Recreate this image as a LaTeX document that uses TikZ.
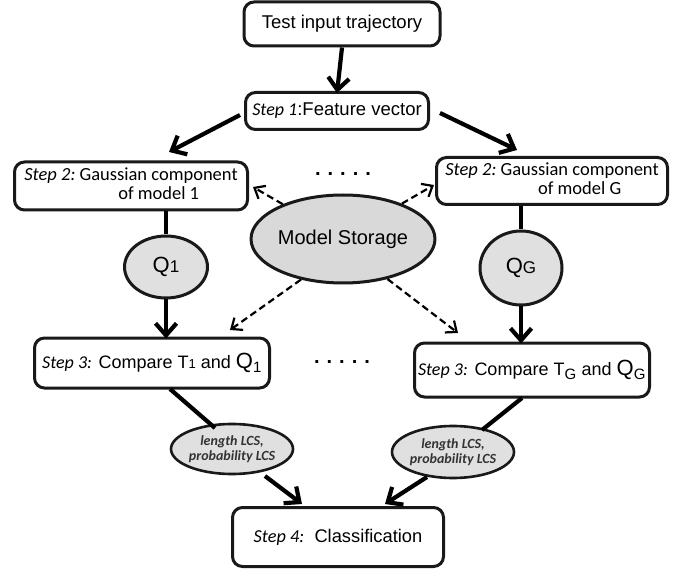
\documentclass[tikz,border=0pt]{standalone}
\usepackage{fontspec}
\setmainfont{Liberation Sans}
\newfontfamily\calfont{Carlito}
\usetikzlibrary{arrows.meta,shapes.geometric}
\tikzset{
  box/.style={draw=black!90, line width=3pt, rounded corners=10pt, fill=white, inner sep=4pt, align=center},
  gfill/.style={draw=black!90, line width=3pt, fill=black!15, ellipse, inner sep=0pt},
  bigarrow/.style={line width=4.2pt, -{Straight Barb[length=12pt,width=21pt,line width=4.2pt]}},
  plainline/.style={line width=4.2pt},
  dasharrow/.style={line width=2.2pt, dash pattern=on 7pt off 4pt, -{Straight Barb[length=9pt,width=15pt,line width=2.2pt]}},
}
\newcommand{\stepl}[1]{{\calfont\itshape #1}}
\begin{document}
\begin{tikzpicture}[x=1pt,y=-1pt]
\useasboundingbox (0,0) rectangle (688,569);
\fill[white] (0,0) rectangle (688,569);
% nodes
\node[box, minimum width=196pt, minimum height=44pt, font=\fontsize{18.5}{21}\selectfont] (top) at (342,24) {Test input trajectory};
\node[box, minimum width=183pt, minimum height=37pt, inner sep=2pt, font=\fontsize{18.5}{21}\selectfont] (s1) at (337,111) {{\calfont\itshape\fontsize{18}{20}\selectfont Step 1}:Feature vector};
\node[box, minimum width=233pt, minimum height=48pt, font=\calfont\fontsize{18.5}{19}\selectfont, inner sep=1pt] (s2l) at (131,186)
  {\begin{tabular}{@{}l@{\ }c@{}}\itshape Step 2: & Gaussian component\\ & of model 1\end{tabular}};
\node[box, minimum width=231pt, minimum height=47pt, font=\calfont\fontsize{18.5}{19}\selectfont, inner sep=1pt] (s2r) at (552,181)
  {\begin{tabular}{@{}l@{\ }c@{}}\itshape Step 2: & Gaussian component\\ & of model G\end{tabular}};
\node[gfill, minimum width=170pt, minimum height=88pt, font=\fontsize{20}{22}\selectfont] (ms) at (343,239) {Model Storage};
\node[gfill, fill=black!12, minimum width=83pt, minimum height=62pt, font=\fontsize{22}{22}\selectfont] (q1) at (166,267) {Q{\fontsize{17}{17}\selectfont 1}};
\node[gfill, fill=black!12, minimum width=82pt, minimum height=74pt, font=\fontsize{22}{22}\selectfont] (qg) at (521,268) {Q{\fontsize{17}{17}\selectfont G}};
\node[box, minimum width=235pt, minimum height=50pt, inner sep=2pt, font=\fontsize{18}{20}\selectfont] (s3l) at (152,363)
  {\stepl{Step 3:} Compare T{\fontsize{13}{14}\selectfont 1} and {\fontsize{22}{22}\selectfont Q}$_{\textrm{\fontsize{15}{15}\selectfont 1}}$};
\node[box, minimum width=235pt, minimum height=54pt, inner sep=2pt, font=\fontsize{18}{20}\selectfont] (s3r) at (532,370)
  {\stepl{Step 3:} Compare T$_{\textrm{\fontsize{15}{15}\selectfont G}}$ and {\fontsize{22}{22}\selectfont Q}$_{\textrm{\fontsize{15}{15}\selectfont G}}$};
\node[gfill, fill=black!12, line width=2.6pt, minimum width=122pt, minimum height=50pt, align=center, text=black!80, font=\calfont\bfseries\itshape\fontsize{14}{15}\selectfont] (lcsl) at (232,449) {length LCS,\\probability LCS};
\node[gfill, fill=black!12, line width=2.6pt, minimum width=122pt, minimum height=52pt, align=center, text=black!80, font=\calfont\bfseries\itshape\fontsize{14}{15}\selectfont] (lcsr) at (453,452) {length LCS,\\probability LCS};
\node[box, minimum width=211pt, minimum height=59pt, font=\fontsize{18.3}{20}\selectfont] (s4) at (338,537) {\stepl{Step 4:}\ \ Classification};
% dots
\node[font=\bfseries\fontsize{20}{22}\selectfont] (d1) at (343,174) {.\hspace{7pt}.\hspace{7pt}.\hspace{7pt}.\hspace{7pt}.};
\node[font=\bfseries\fontsize{20}{22}\selectfont] (d2) at (342,362) {.\hspace{7pt}.\hspace{7pt}.\hspace{7pt}.\hspace{7pt}.};
% coordinates for arrow ends
\coordinate (a1s) at (240,115); \coordinate (a1e) at (169,152);
\coordinate (a2s) at (440,113); \coordinate (a2e) at (517,150);
\coordinate (l1s) at (170,389); \coordinate (l1e) at (215,428);
\coordinate (l2s) at (522,398); \coordinate (l2e) at (482,430);
\coordinate (b1s) at (265,476); \coordinate (b1e) at (302,504);
\coordinate (b2s) at (427,477); \coordinate (b2e) at (385,504);
\coordinate (t1) at (253,187); \coordinate (t2) at (434,185);
\coordinate (t3) at (230,330); \coordinate (t4) at (458,333);
% connectors
\draw[bigarrow] (top.south) -- ([yshift=-2pt]s1.north);
\draw[bigarrow] (a1s) -- (a1e);
\draw[bigarrow] (a2s) -- (a2e);
\draw[plainline] (s2l.south -| q1.north) -- (q1.north);
\draw[plainline] (s2r.south -| qg.north) -- (qg.north);
\draw[bigarrow] (q1.south) -- ([yshift=-2pt]s3l.north -| q1.south);
\draw[bigarrow] (qg.south) -- ([yshift=-2pt]s3r.north -| qg.south);
\draw[plainline] (l1s) -- (l1e);
\draw[plainline] (l2s) -- (l2e);
\draw[bigarrow] (b1s) -- (b1e);
\draw[bigarrow] (b2s) -- (b2e);
\draw[dasharrow] (ms.150) -- (t1);
\draw[dasharrow] (ms.31) -- (t2);
\draw[dasharrow] (ms.224) -- (t3);
\draw[dasharrow] (ms.318) -- (t4);
\end{tikzpicture}
\end{document}
